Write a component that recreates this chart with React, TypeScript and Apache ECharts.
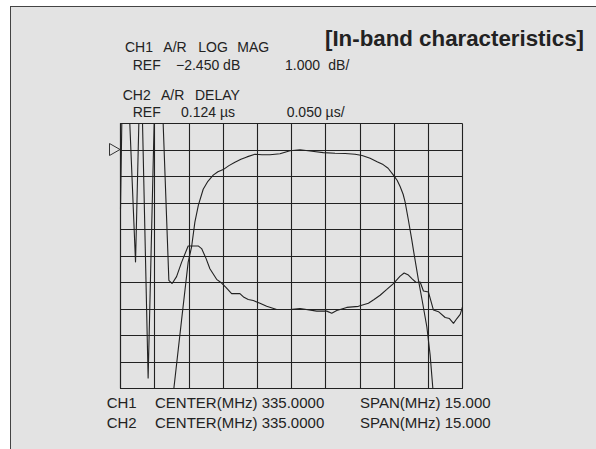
import React, { useEffect, useRef } from "react";
import * as echarts from "echarts";

// CH1 A/R LOG MAG (dB) vs frequency (MHz)
const magFreq = [329.84, 330.178, 330.468, 330.618, 330.762, 330.916, 331.127, 331.333, 331.566, 331.772, 332.005, 332.255, 332.519, 332.782, 333.046, 333.397, 333.704, 334.056, 334.495, 334.934, 335.373, 335.9, 336.396, 336.91, 337.349, 337.788, 338.096, 338.447, 338.754, 339.018, 339.237, 339.47, 339.632, 339.764, 339.896, 339.984, 340.128, 340.278, 340.348, 340.568, 340.73, 340.937, 341.081, 341.2];
const magDb = [-11.45, -8.87, -6.68, -6.11, -5.17, -4.53, -3.93, -3.63, -3.4, -3.27, -3.19, -3.04, -2.91, -2.8, -2.71, -2.61, -2.63, -2.63, -2.59, -2.48, -2.44, -2.5, -2.55, -2.57, -2.58, -2.61, -2.66, -2.76, -2.89, -3.0, -3.14, -3.4, -3.59, -3.83, -4.12, -4.42, -5.1, -5.85, -6.23, -7.36, -8.12, -9.13, -10.19, -11.45];

// CH2 A/R DELAY (µs) vs frequency (MHz)
const delayFreq = [327.5, 327.557, 327.908, 328.159, 328.304, 328.466, 328.712, 328.975, 329.371, 329.621, 329.766, 329.959, 330.178, 330.468, 330.907, 331.057, 331.246, 331.421, 331.715, 331.935, 332.124, 332.374, 332.738, 332.914, 333.103, 333.322, 333.617, 333.911, 334.35, 334.934, 335.373, 336.106, 336.545, 336.765, 336.985, 337.424, 337.933, 338.372, 338.622, 338.886, 339.18, 339.47, 339.764, 339.94, 340.128, 340.291, 340.467, 340.642, 340.787, 341.007, 341.226, 341.446, 341.74, 341.929, 342.104, 342.254, 342.399, 342.5];
const delayUs = [0.012, 0.174, 0.174, -0.088, 0.174, 0.174, -0.307, 0.174, 0.174, -0.122, -0.128, -0.115, -0.088, -0.057, -0.057, -0.062, -0.08, -0.1, -0.12, -0.127, -0.135, -0.147, -0.147, -0.154, -0.158, -0.16, -0.165, -0.171, -0.177, -0.177, -0.175, -0.18, -0.18, -0.184, -0.179, -0.173, -0.171, -0.165, -0.158, -0.15, -0.139, -0.128, -0.114, -0.108, -0.112, -0.119, -0.126, -0.125, -0.142, -0.144, -0.178, -0.181, -0.192, -0.194, -0.203, -0.194, -0.186, -0.172];

// Instrument settings
const center = 335.0;
const span = 15.0;
const divisions = 10;
const ch1Ref = -2.45;
const ch1Scale = 1.0;
const ch2Ref = 0.124;
const ch2Scale = 0.05;
const refDivision = 9; // reference line position, counted from bottom

const FONT = "'Liberation Sans', Arial, Helvetica, sans-serif";
const INK = "#222";

function txt(text: string, x: number, y: number, size = 14, weight = "normal") {
  return {
    type: "text",
    silent: true,
    style: {
      text,
      x,
      y,
      fill: INK,
      fontSize: size,
      fontFamily: FONT,
      fontWeight: weight,
      textAlign: "left",
      textVerticalAlign: "middle",
      align: "left",
      verticalAlign: "middle",
    },
  };
}

export default function App() {
  const ref = useRef<HTMLDivElement>(null);
  useEffect(() => {
    if (!ref.current) return;
    const chart = echarts.init(ref.current, undefined, { renderer: "svg" });
    const xMin = center - span / 2;
    const xMax = center + span / 2;
    const gridLine = { color: "#222", width: 1.1 };
    const magPairs = magFreq.map((f, i) => [f, magDb[i]]);
    const delayPairs = delayFreq.map((f, i) => [f, delayUs[i]]);
    chart.setOption({
      animation: false,
      backgroundColor: "transparent",
      grid: { left: 120.5, top: 123.5, width: 342, height: 265, containLabel: false },
      xAxis: [
        {
          type: "value",
          min: 0,
          max: divisions,
          interval: 1,
          axisLine: { show: true, lineStyle: gridLine },
          axisTick: { show: false },
          axisLabel: { show: false },
          splitLine: { show: true, lineStyle: gridLine },
        },
        { type: "value", min: xMin, max: xMax, show: false, splitLine: { show: false } },
      ],
      yAxis: [
        {
          type: "value",
          min: 0,
          max: divisions,
          interval: 1,
          axisLine: { show: true, lineStyle: gridLine },
          axisTick: { show: false },
          axisLabel: { show: false },
          splitLine: { show: true, lineStyle: gridLine },
        },
        {
          type: "value",
          min: ch1Ref - refDivision * ch1Scale,
          max: ch1Ref + (divisions - refDivision) * ch1Scale,
          show: false,
          splitLine: { show: false },
        },
        {
          type: "value",
          min: ch2Ref - refDivision * ch2Scale,
          max: ch2Ref + (divisions - refDivision) * ch2Scale,
          show: false,
          splitLine: { show: false },
        },
      ],
      series: [
        {
          type: "line",
          name: "CH1 LOG MAG",
          xAxisIndex: 1,
          yAxisIndex: 1,
          data: magPairs,
          showSymbol: false,
          symbol: "none",
          lineStyle: { color: INK, width: 1.1 },
          clip: true,
        },
        {
          type: "line",
          name: "CH2 DELAY",
          xAxisIndex: 1,
          yAxisIndex: 2,
          data: delayPairs,
          showSymbol: false,
          symbol: "none",
          lineStyle: { color: INK, width: 1.1 },
          clip: true,
        },
      ],
      graphic: [
        {
          type: "polygon",
          silent: true,
          shape: { points: [[109.5, 143.5], [109.5, 155.5], [120, 149.5]] },
          style: { fill: "none", stroke: "#333", lineWidth: 1 },
        },
        txt("[In-band characteristics]", 325, 38.5, 22.3, "bold"),
        txt("CH1", 125, 46.7),
        txt("A/R", 163.3, 46.7),
        txt("LOG", 198.3, 46.7),
        txt("MAG", 237.3, 46.7),
        txt("REF", 132.7, 65.3),
        txt("\u22122.450 dB", 176, 65.3),
        txt("1.000", 285, 65.3),
        txt("dB/", 328.3, 65.3),
        txt("CH2", 122.7, 95),
        txt("A/R", 161, 95),
        txt("DELAY", 195, 95),
        txt("REF", 132.7, 111.7),
        txt("0.124 \u00b5s", 181, 111.7),
        txt("0.050 \u00b5s/", 286.7, 111.7),
        txt("CH1", 106.7, 402.8, 15),
        txt("CENTER(MHz) 335.0000", 155, 402.8, 15),
        txt("SPAN(MHz) 15.000", 360, 402.8, 15),
        txt("CH2", 106.7, 422.8, 15),
        txt("CENTER(MHz) 335.0000", 155, 422.8, 15),
        txt("SPAN(MHz) 15.000", 360, 422.8, 15),
      ],
    });
    return () => chart.dispose();
  }, []);

  return (
    <div style={{ position: "fixed", left: 0, top: 0, width: 596, height: 449, background: "#fff", overflow: "hidden" }}>
      <div
        style={{
          position: "absolute",
          left: 10,
          top: 6,
          width: 600,
          height: 460,
          background: "#e3e3e3",
          borderTop: "1.5px solid #444",
          borderLeft: "1.5px solid #444",
        }}
      />
      <div ref={ref} style={{ position: "absolute", left: 0, top: 0, width: 596, height: 449 }} />
    </div>
  );
}
